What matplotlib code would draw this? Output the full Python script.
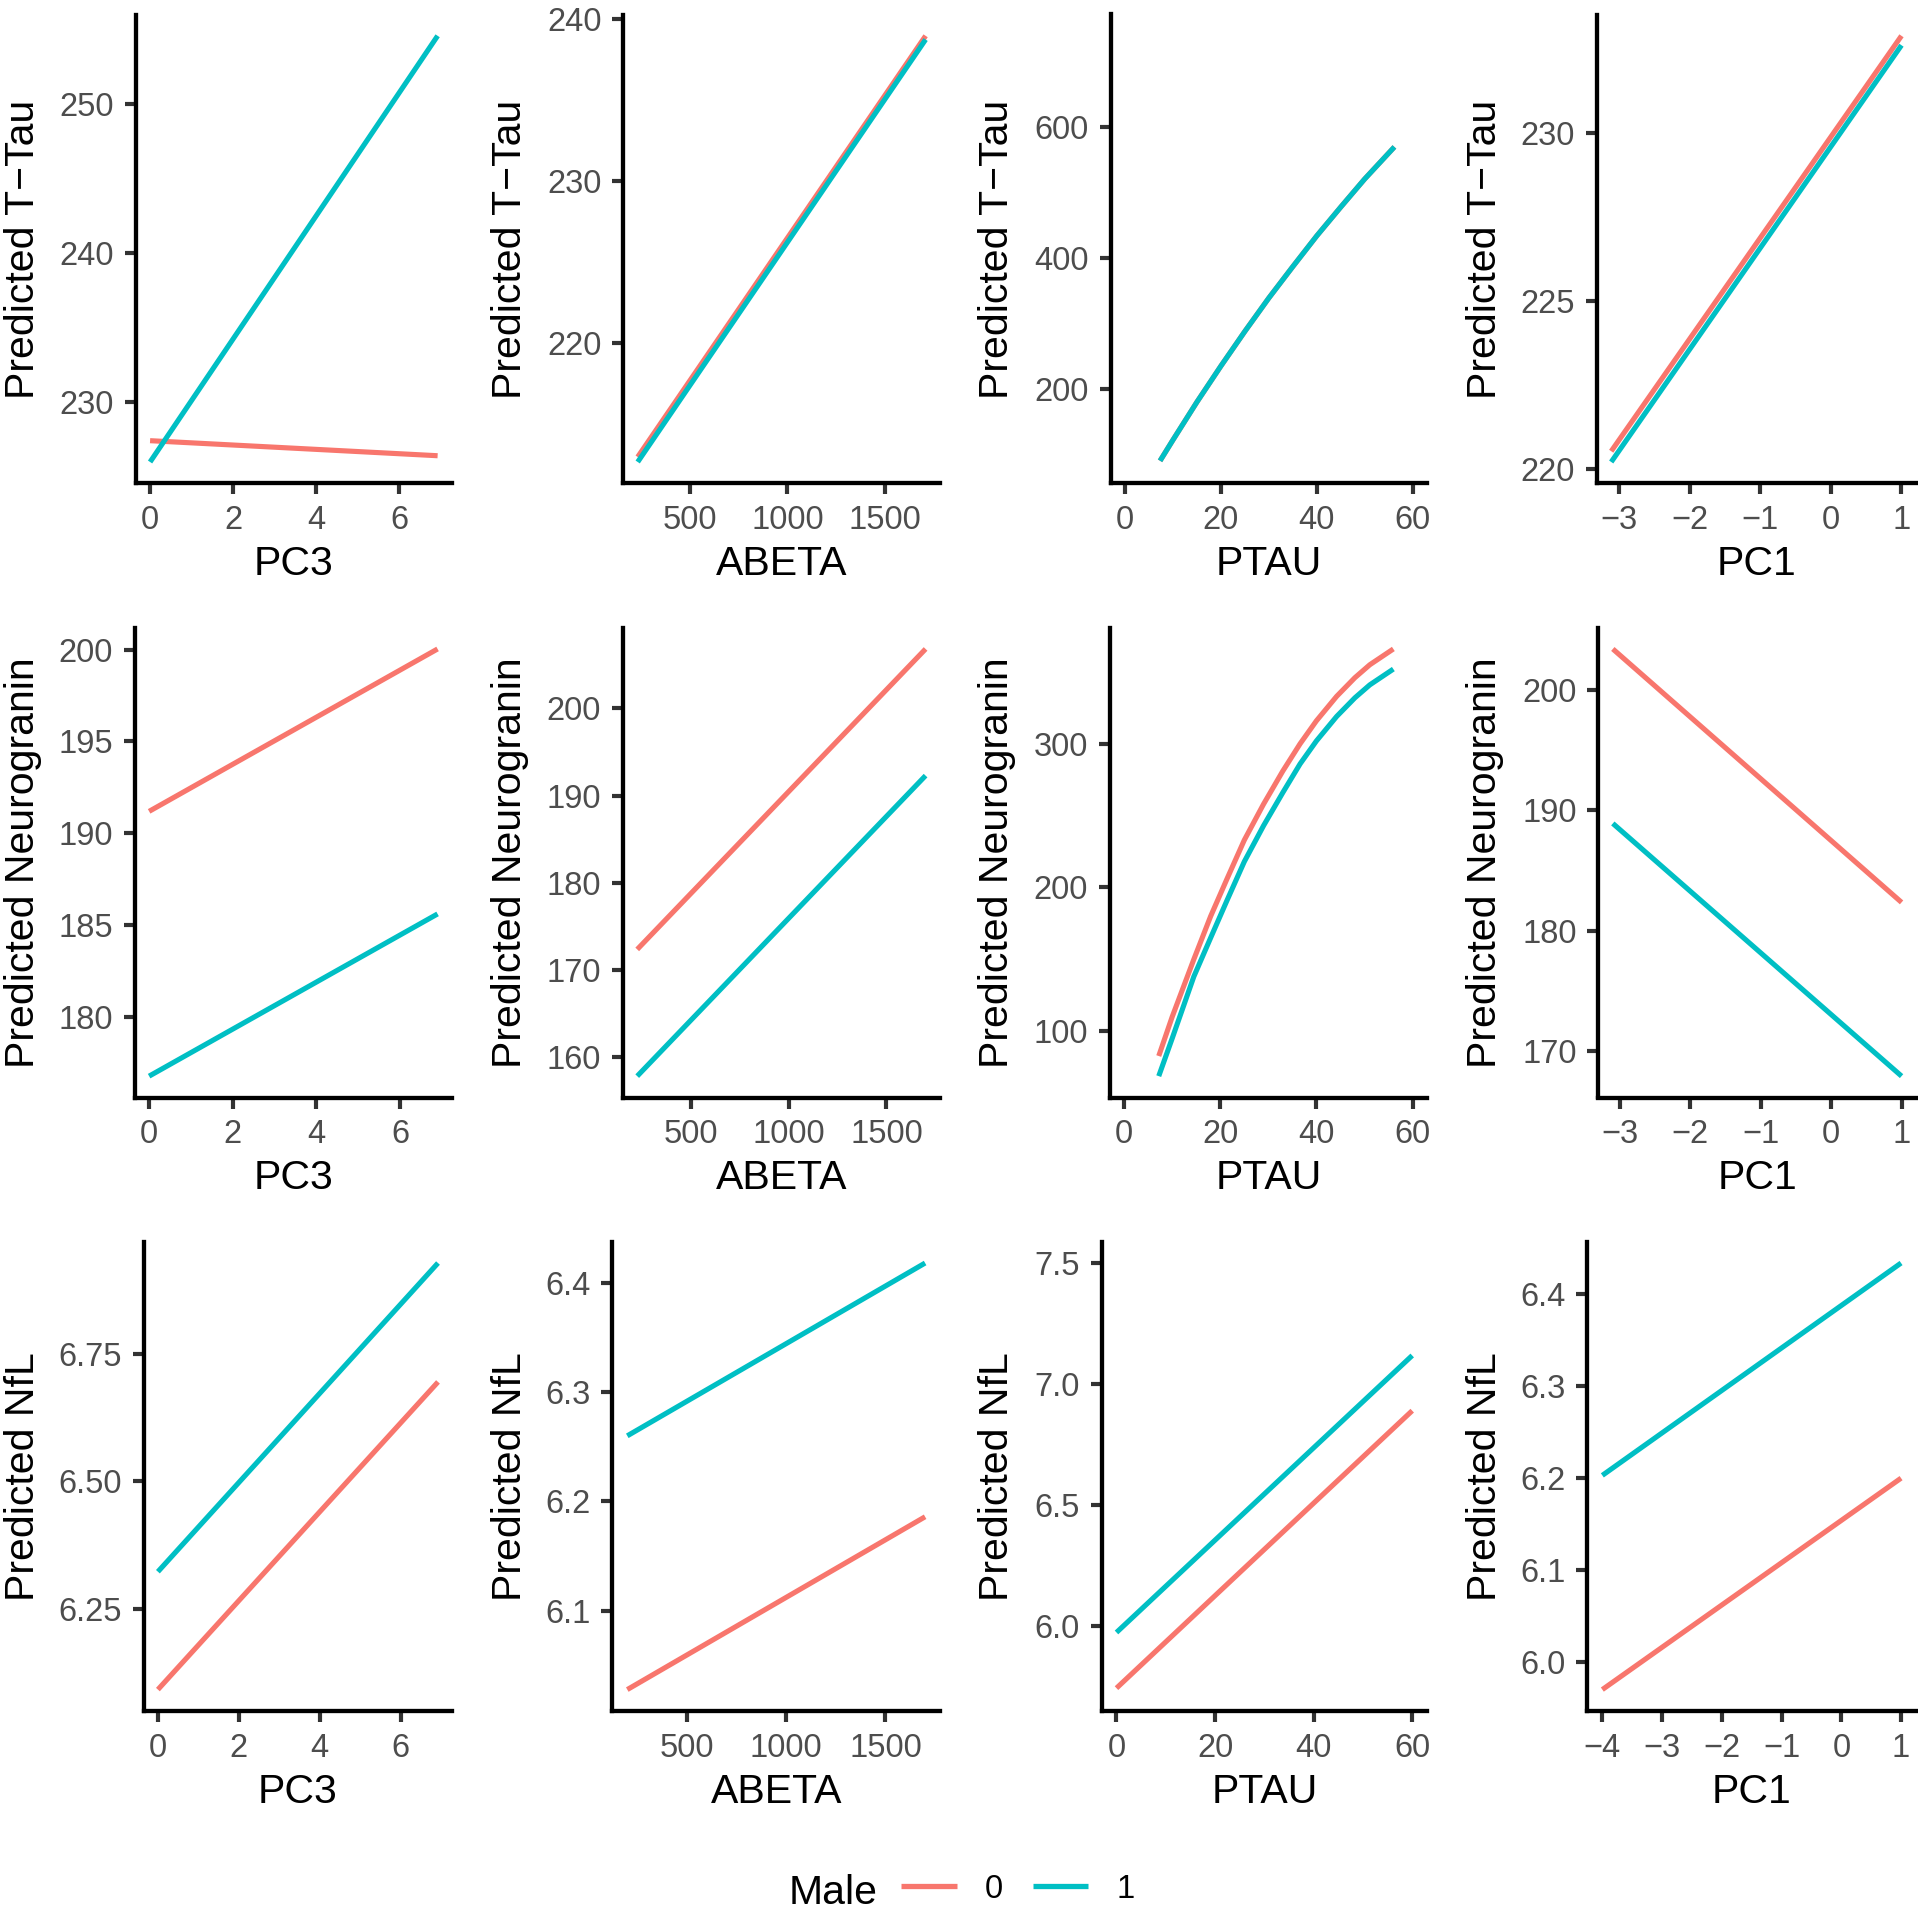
import matplotlib
matplotlib.use('Agg')
import matplotlib.pyplot as plt
from matplotlib.lines import Line2D

plt.rcParams['font.family'] = ['Liberation Sans', 'DejaVu Sans']

W, H = 1918, 1910
RED = '#F8766D'
TEAL = '#00BFC4'

# ---- row 1: Predicted T-Tau ----
ttau_pc3_x = [0, 6.93]
ttau_pc3_m0 = [227.40, 226.39]
ttau_pc3_m1 = [225.97, 254.57]

ttau_abeta_x = [230, 1710]
ttau_abeta_m0 = [212.94, 238.97]
ttau_abeta_m1 = [212.63, 238.74]

ttau_ptau_x = [7.3, 10, 15, 20, 25, 30, 35, 40, 45, 50, 56.2]
ttau_ptau_m0 = [90, 122, 180, 235, 288, 339, 387, 434, 478, 521, 570]
ttau_ptau_m1 = [90, 122, 180, 235, 288, 339, 387, 434, 478, 521, 570]

ttau_pc1_x = [-3.11, 1.0]
ttau_pc1_m0 = [220.54, 232.89]
ttau_pc1_m1 = [220.22, 232.61]

# ---- row 2: Predicted Neurogranin ----
ng_pc3_x = [0, 6.9]
ng_pc3_m0 = [191.19, 200.04]
ng_pc3_m1 = [176.76, 185.60]

ng_abeta_x = [225, 1700]
ng_abeta_m0 = [172.34, 206.83]
ng_abeta_m1 = [157.79, 192.29]

ng_ptau_x = [7.2, 10, 14.5, 18, 21.4, 25, 29.0, 33, 36.6, 40, 44.2, 48, 51.1, 56.0]
ng_ptau_m0 = [82.7, 110, 150, 180, 206, 233, 258, 281, 300, 316, 333, 346, 355, 366]
ng_ptau_m1 = [68.7, 95, 138, 165, 191, 218, 243, 266, 286, 302, 319, 332, 341, 352]

ng_pc1_x = [-3.1, 1.0]
ng_pc1_m0 = [203.42, 182.36]
ng_pc1_m1 = [188.92, 167.92]

# ---- row 3: Predicted NfL ----
nfl_pc3_x = [0, 6.92]
nfl_pc3_m0 = [6.092, 6.695]
nfl_pc3_m1 = [6.323, 6.928]

nfl_abeta_x = [200, 1700]
nfl_abeta_m0 = [6.028, 6.186]
nfl_abeta_m1 = [6.260, 6.418]

nfl_ptau_x = [0, 60]
nfl_ptau_m0 = [5.742, 6.888]
nfl_ptau_m1 = [5.972, 7.116]

nfl_pc1_x = [-4, 1]
nfl_pc1_m0 = [5.970, 6.200]
nfl_pc1_m1 = [6.203, 6.434]

pc3_ticks = [0, 2, 4, 6]
abeta_ticks = [500, 1000, 1500]
ptau_ticks = [0, 20, 40, 60]
pc1_ticks = [-3, -2, -1, 0, 1]
pc1_ticks_nfl = [-4, -3, -2, -1, 0, 1]

# row, col, x, male0, male1, xlabel, ylabel, xticks, yticks, yticklabels, xlim, ylim
panels = [
    (0, 0, ttau_pc3_x, ttau_pc3_m0, ttau_pc3_m1, 'PC3', 'Predicted T\u2212Tau',
     pc3_ticks, [230, 240, 250], ['230', '240', '250'], None, None),
    (0, 1, ttau_abeta_x, ttau_abeta_m0, ttau_abeta_m1, 'ABETA', 'Predicted T\u2212Tau',
     abeta_ticks, [220, 230, 240], ['220', '230', '240'], None, None),
    (0, 2, ttau_ptau_x, ttau_ptau_m0, ttau_ptau_m1, 'PTAU', 'Predicted T\u2212Tau',
     ptau_ticks, [200, 400, 600], ['200', '400', '600'], (-3, 63), (55.6, 772.5)),
    (0, 3, ttau_pc1_x, ttau_pc1_m0, ttau_pc1_m1, 'PC1', 'Predicted T\u2212Tau',
     pc1_ticks, [220, 225, 230], ['220', '225', '230'], None, None),
    (1, 0, ng_pc3_x, ng_pc3_m0, ng_pc3_m1, 'PC3', 'Predicted Neurogranin',
     pc3_ticks, [180, 185, 190, 195, 200], ['180', '185', '190', '195', '200'], None, None),
    (1, 1, ng_abeta_x, ng_abeta_m0, ng_abeta_m1, 'ABETA', 'Predicted Neurogranin',
     abeta_ticks, [160, 170, 180, 190, 200], ['160', '170', '180', '190', '200'], None, None),
    (1, 2, ng_ptau_x, ng_ptau_m0, ng_ptau_m1, 'PTAU', 'Predicted Neurogranin',
     ptau_ticks, [100, 200, 300], ['100', '200', '300'], (-3, 63), None),
    (1, 3, ng_pc1_x, ng_pc1_m0, ng_pc1_m1, 'PC1', 'Predicted Neurogranin',
     pc1_ticks, [170, 180, 190, 200], ['170', '180', '190', '200'], None, None),
    (2, 0, nfl_pc3_x, nfl_pc3_m0, nfl_pc3_m1, 'PC3', 'Predicted NfL',
     pc3_ticks, [6.25, 6.5, 6.75], ['6.25', '6.50', '6.75'], None, None),
    (2, 1, nfl_abeta_x, nfl_abeta_m0, nfl_abeta_m1, 'ABETA', 'Predicted NfL',
     abeta_ticks, [6.1, 6.2, 6.3, 6.4], ['6.1', '6.2', '6.3', '6.4'], None, None),
    (2, 2, nfl_ptau_x, nfl_ptau_m0, nfl_ptau_m1, 'PTAU', 'Predicted NfL',
     ptau_ticks, [6.0, 6.5, 7.0, 7.5], ['6.0', '6.5', '7.0', '7.5'], None, (5.648, 7.586)),
    (2, 3, nfl_pc1_x, nfl_pc1_m0, nfl_pc1_m1, 'PC1', 'Predicted NfL',
     pc1_ticks_nfl, [6.0, 6.1, 6.2, 6.3, 6.4], ['6.0', '6.1', '6.2', '6.3', '6.4'], None, None),
]

# panel geometry in pixels (from top of figure)
rows_top = [14.5, 627.6, 1241.7]
rows_bot = [483.3, 1097.5, 1710.9]
lefts = [[135.7, 623.3, 1110.7, 1596.7],
         [134.7, 622.8, 1109.7, 1598.4],
         [143.9, 612.4, 1101.7, 1587.4]]
rights = [452, 940, 1427, 1916]
ylab_x = [23, 510, 997.5, 1485]

fig = plt.figure(figsize=(W / 100, H / 100), dpi=100)

for (r, c, x, m0, m1, xlab, ylab, xt, yt, ytl, xlim, ylim) in panels:
    t, b = rows_top[r], rows_bot[r]
    l, rt = lefts[r][c], rights[c]
    ax = fig.add_axes([l / W, 1 - b / H, (rt - l) / W, (b - t) / H])
    ax.plot(x, m0, color=RED, lw=3.7, solid_capstyle='butt', solid_joinstyle='round')
    ax.plot(x, m1, color=TEAL, lw=3.7, solid_capstyle='butt', solid_joinstyle='round')
    ax.margins(0.05)
    xl = ax.get_xlim()
    yl = ax.get_ylim()
    ax.set_xticks(xt)
    ax.set_xticklabels([str(v).replace('-', '\u2212') for v in xt])
    ax.set_yticks(yt)
    ax.set_yticklabels(ytl)
    ax.set_xlim(xlim if xlim else xl)
    ax.set_ylim(ylim if ylim else yl)
    for s in ['top', 'right']:
        ax.spines[s].set_visible(False)
    for s in ['left', 'bottom']:
        ax.spines[s].set_linewidth(3.1)
        ax.spines[s].set_color('black')
    ax.tick_params(length=7.7, width=3.0, color='#333333', labelsize=23.5,
                   labelcolor='#4D4D4D', pad=8)
    fig.text(ylab_x[c] / W, 1 - (t + b) / 2 / H, ylab, rotation=90,
             ha='center', va='center', fontsize=29.5)
    fig.text((l + rt) / 2 / W, 1 - (b + 91.7) / H, xlab,
             ha='center', va='baseline', fontsize=29.5)

handles = [Line2D([], [], color=RED, lw=3.8, solid_capstyle='butt'),
           Line2D([], [], color=TEAL, lw=3.8, solid_capstyle='butt')]
fig.legend(handles, ['0', '1'], ncol=2, loc='center',
           bbox_to_anchor=(1018 / W, 1 - 1889 / H), frameon=False, fontsize=23.5,
           handlelength=1.7, handletextpad=0.87, columnspacing=0.91,
           borderpad=0, borderaxespad=0)
fig.text(789 / W, 1 - 1904 / H, 'Male', fontsize=29.5, ha='left', va='baseline')

fig.savefig('out.png', dpi=100)
